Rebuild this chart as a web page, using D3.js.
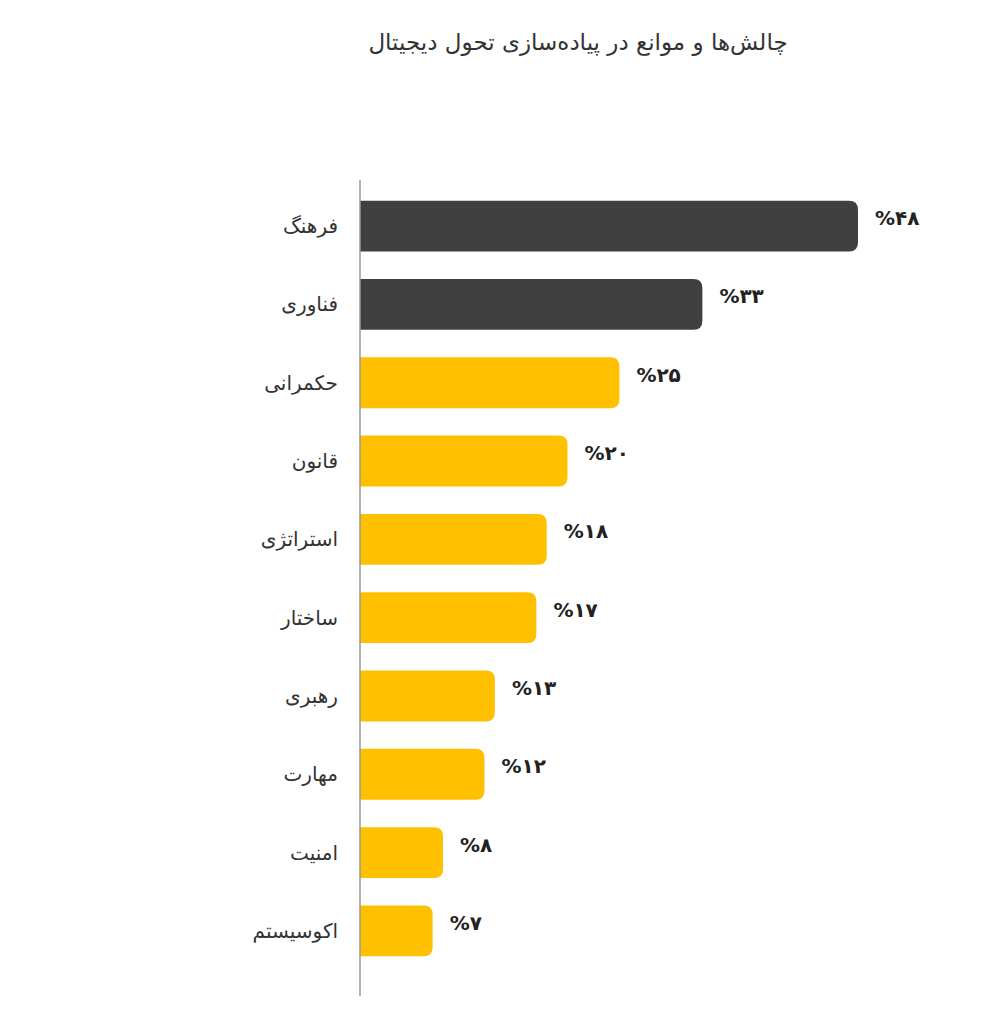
<!DOCTYPE html>
<html><head><meta charset="utf-8">
<script src="https://cdn.jsdelivr.net/npm/d3@7"></script>
<style>body{margin:0;background:#fff;font-family:"DejaVu Sans","Noto Sans",sans-serif}</style>
</head><body><div id="chart"></div>
<script>
var categories = ['فرهنگ','فناوری','حکمرانی','قانون','استراتژی','ساختار','رهبری','مهارت','امنیت','اکوسیستم'];
var values = [48,33,25,20,18,17,13,12,8,7];
var labels = ['%۴۸','%۳۳','%۲۵','%۲۰','%۱۸','%۱۷','%۱۳','%۱۲','%۸','%۷'];
var dark_count = 2;

var width = 991, height = 1024;
var svg = d3.select('#chart').append('svg').attr('width', width).attr('height', height);

svg.append('text').attr('x', 578).attr('y', 50).attr('text-anchor', 'middle')
  .attr('font-size', 23).attr('fill', '#333').attr('direction', 'rtl')
  .text('چالش‌ها و موانع در پیاده‌سازی تحول دیجیتال');

var x = d3.scaleLinear().domain([0, 48]).range([360, 858]);
var y = d3.scaleBand().domain(categories).range([185, 972]).paddingInner(0.35).paddingOuter(0.2);

function barPath(x0, y0, w, h, r) {
  return 'M' + x0 + ',' + y0 + 'H' + (x0 + w - r) + 'Q' + (x0 + w) + ',' + y0 + ' ' + (x0 + w) + ',' + (y0 + r) +
    'V' + (y0 + h - r) + 'Q' + (x0 + w) + ',' + (y0 + h) + ' ' + (x0 + w - r) + ',' + (y0 + h) + 'H' + x0 + 'Z';
}

svg.selectAll('.bar').data(values).enter().append('path')
  .attr('d', (d, i) => barPath(x(0), y(categories[i]), x(d) - x(0), y.bandwidth(), 9))
  .attr('fill', (d, i) => i < dark_count ? '#404040' : '#FFC000');

svg.append('line').attr('x1', 360).attr('x2', 360).attr('y1', 180).attr('y2', 996)
  .attr('stroke', '#999').attr('stroke-width', 1.5);

svg.selectAll('.cat').data(categories).enter().append('text')
  .attr('x', 338).attr('y', d => y(d) + y.bandwidth() / 2).attr('dy', '0.35em')
  .attr('text-anchor', 'end').attr('font-size', 20).attr('fill', '#333')
  .text(d => d);

svg.selectAll('.val').data(values).enter().append('text')
  .attr('x', d => x(d) + 17).attr('y', (d, i) => y(categories[i]) + y.bandwidth() / 2 - 8)
  .attr('dy', '0.35em').attr('font-size', 20).attr('font-weight', 'bold').attr('fill', '#222')
  .attr('direction', 'ltr')
  .text((d, i) => labels[i]);
</script></body></html>
